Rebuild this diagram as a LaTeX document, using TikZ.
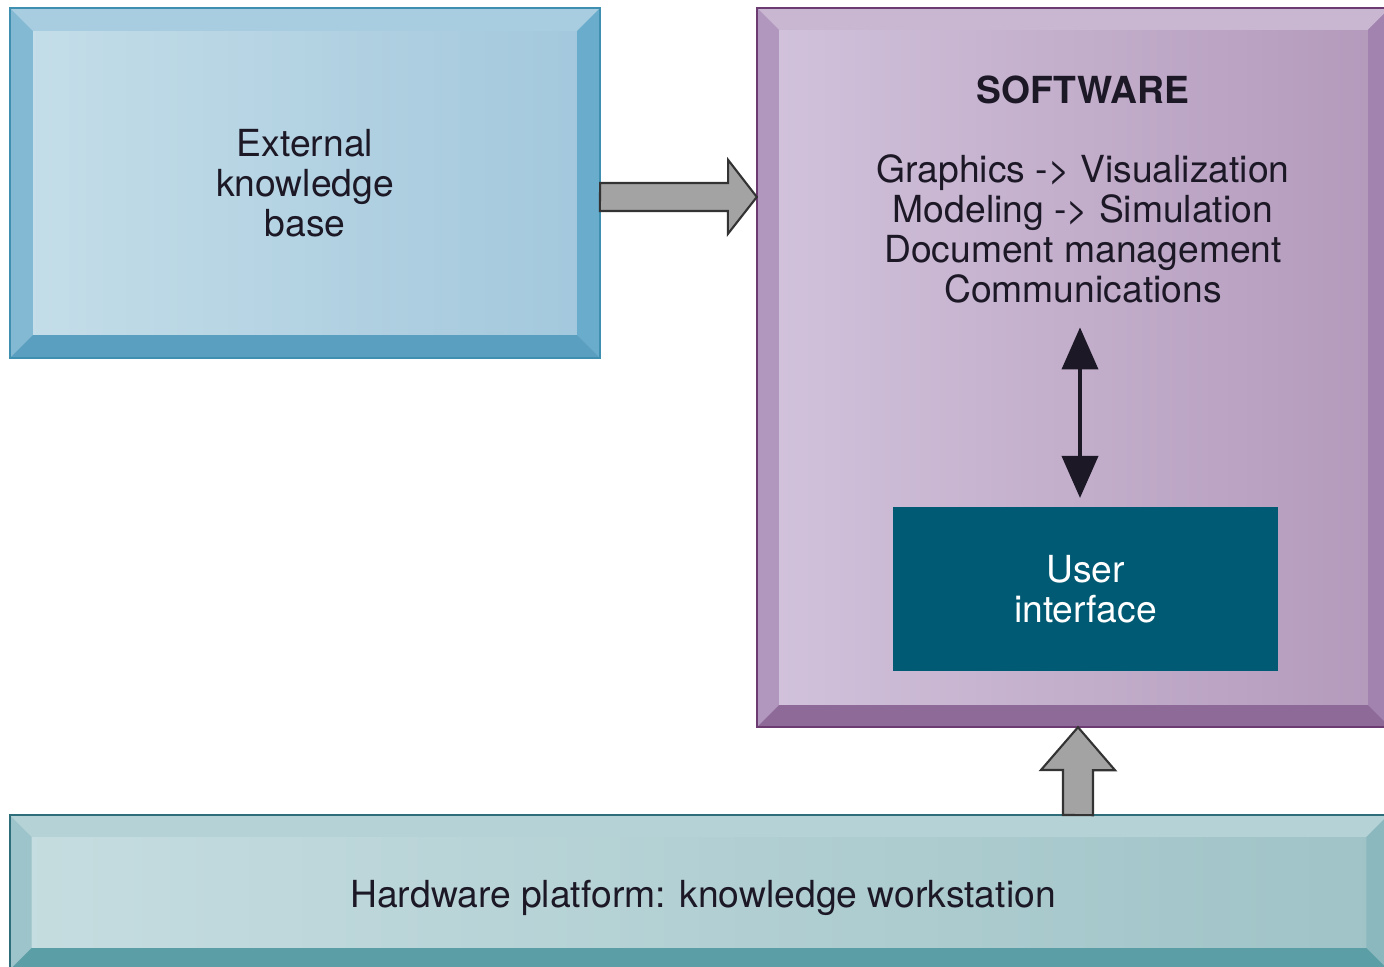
\documentclass[tikz,border=0pt]{standalone}
\usepackage{fontspec}
\setmainfont{TeX Gyre Heros}
\usetikzlibrary{arrows.meta,calc}

\definecolor{txtdark}{HTML}{1C1826}
% external knowledge base
\definecolor{kbedge}{HTML}{3E8FB0}
\definecolor{kbleft}{HTML}{C5DEE9}
\definecolor{kbright}{HTML}{A2C7DC}
\definecolor{kbtop}{HTML}{A8CDE0}
\definecolor{kbside}{HTML}{84B9D3}
\definecolor{kbrside}{HTML}{6AACCB}
\definecolor{kbbottom}{HTML}{5A9FBF}
% software
\definecolor{swedge}{HTML}{6B3B72}
\definecolor{swleft}{HTML}{D2C3DC}
\definecolor{swright}{HTML}{B399BB}
\definecolor{swtop}{HTML}{C9B6D1}
\definecolor{swside}{HTML}{B196BE}
\definecolor{swrside}{HTML}{A283B0}
\definecolor{swbottom}{HTML}{8E6A99}
% hardware
\definecolor{hwedge}{HTML}{2E6E7A}
\definecolor{hwleft}{HTML}{C6DDE0}
\definecolor{hwright}{HTML}{9FC3C7}
\definecolor{hwtop}{HTML}{B5D2D6}
\definecolor{hwside}{HTML}{9CC4CA}
\definecolor{hwrside}{HTML}{8AB8BE}
\definecolor{hwbottom}{HTML}{5C9EA6}
\definecolor{uiblue}{HTML}{005A73}
\definecolor{arrowgray}{HTML}{A3A3A3}

\begin{document}
\begin{tikzpicture}[x=0.01cm, y=-0.01cm,
    every node/.style={font=\fontsize{10.6}{11.4}\selectfont, text=txtdark,
      inner sep=0pt, outer sep=0pt, align=center},
    bevel/.style n args={5}{path picture={
      \fill[#2] (path picture bounding box.north west) -- (path picture bounding box.north east)
        -- ([shift={(-#1,#1)}]path picture bounding box.north east)
        -- ([shift={(#1,#1)}]path picture bounding box.north west) -- cycle;
      \fill[#3] (path picture bounding box.north west) -- (path picture bounding box.south west)
        -- ([shift={(#1,-#1)}]path picture bounding box.south west)
        -- ([shift={(#1,#1)}]path picture bounding box.north west) -- cycle;
      \fill[#4] (path picture bounding box.north east) -- (path picture bounding box.south east)
        -- ([shift={(-#1,-#1)}]path picture bounding box.south east)
        -- ([shift={(-#1,#1)}]path picture bounding box.north east) -- cycle;
      \fill[#5] (path picture bounding box.south west) -- (path picture bounding box.south east)
        -- ([shift={(-#1,-#1)}]path picture bounding box.south east)
        -- ([shift={(#1,-#1)}]path picture bounding box.south west) -- cycle;}},
    kbbox/.style={draw=kbedge, line width=0.6pt, left color=kbleft, right color=kbright,
      bevel={23}{kbtop}{kbside}{kbrside}{kbbottom}},
    swbox/.style={draw=swedge, line width=0.6pt, left color=swleft, right color=swright,
      bevel={22}{swtop}{swside}{swrside}{swbottom}},
    hwbox/.style={draw=hwedge, line width=0.6pt, left color=hwleft, right color=hwright,
      bevel={22}{hwtop}{hwside}{hwrside}{hwbottom}},
    uibox/.style={fill=uiblue, text=white},
    blockarrow/.style={draw=black!80, fill=arrowgray, line width=0.6pt, line join=miter},
    dblarrow/.style={draw=txtdark, line width=1.1pt,
      {Triangle[width=0.36cm,length=0.42cm]}-{Triangle[width=0.36cm,length=0.42cm]}}]
  \useasboundingbox (0,0) rectangle (1384,967);
  \clip (0,0) rectangle (1384,967);

  \node[kbbox, minimum width=5.9cm, minimum height=3.5cm] (kb) at (305,183)
    {External\\knowledge\\base};
  \node[swbox, minimum width=6.33cm, minimum height=7.19cm] (sw) at (1073.5,367.5) {};
  \node[font=\fontsize{10.6}{11.4}\selectfont\bfseries] (title) at (1083,90) {SOFTWARE};
  \node (list) at (1083,229) {Graphics -> Visualization\\Modeling -> Simulation\\
    Document management\\Communications};
  \node[uibox, minimum width=3.85cm, minimum height=1.64cm] (ui) at (1085.5,589)
    {User\\interface};
  \node[hwbox, minimum width=13.78cm, minimum height=1.55cm] (hw) at (699,892.5) {};
  \node (hwtext) at (703,898) {Hardware platform: knowledge workstation};

  \coordinate (rowA) at (0,197);
  \coordinate (colB) at (1078,0);
  \coordinate (colC) at (1080,0);

  % knowledge base feeds the software
  \draw[blockarrow] (kb.east |- rowA) ++(0,-14) -- ++(128,0) -- ++(0,-23)
    -- (sw.west |- rowA) -- ++(-29,37) -- ++(0,-23) -- ++(-128,0) -- cycle;
  % hardware carries the software
  \draw[blockarrow] (hw.north -| colB) ++(-15,0) -- ++(0,-45) -- ++(-22,0)
    -- (sw.south -| colB) -- ++(37,43) -- ++(-22,0) -- ++(0,45) -- cycle;
  \draw[dblarrow, shorten <=0.24cm, shorten >=0.09cm] (list.south -| colC) -- (ui.north -| colC);
\end{tikzpicture}
\end{document}
